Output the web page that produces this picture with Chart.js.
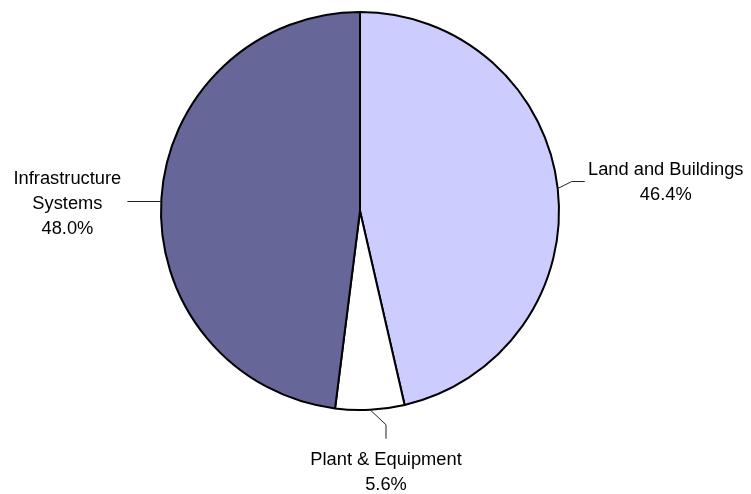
<!DOCTYPE html>
<html>
<head>
<meta charset="utf-8">
<script src="https://cdn.jsdelivr.net/npm/chart.js@4"></script>
<style>
  body { margin: 0; background: #fff; }
</style>
</head>
<body>
<canvas id="assetPie" width="751" height="494"></canvas>
<script>
// Asset mix pie
const categories = ['Land and Buildings', 'Plant & Equipment', 'Infrastructure Systems'];
const shares = [46.4, 5.6, 48.0];
const sliceColors = ['#CCCCFF', '#FFFFFF', '#666699'];
const labelLines = [['Land and Buildings'], ['Plant & Equipment'], ['Infrastructure', 'Systems']];

// leader points (offsets from slice edge midpoint) and text offsets
const leaders = [
  [[0, 0], [14, -7], [27, -7]],
  [[0, 0], [16, 15], [16, 29]],
  [[0, 3], [-34, 3]]
];
const textOffsets = [[108, -19], [16, 50], [-94, -20]];

const calloutPlugin = {
  id: 'callouts',
  afterDatasetsDraw(chart) {
    const ctx = chart.ctx;
    const meta = chart.getDatasetMeta(0);
    ctx.save();
    ctx.font = '18.3px "Liberation Sans", Arial, sans-serif';
    ctx.fillStyle = '#000';
    ctx.strokeStyle = '#222';
    ctx.lineWidth = 1;
    ctx.textAlign = 'center';
    ctx.textBaseline = 'middle';
    meta.data.forEach((arc, i) => {
      const p = arc.getProps(['x', 'y', 'startAngle', 'endAngle', 'outerRadius'], true);
      const mid = (p.startAngle + p.endAngle) / 2;
      const ex = p.x + Math.cos(mid) * p.outerRadius;
      const ey = p.y + Math.sin(mid) * p.outerRadius;
      ctx.beginPath();
      leaders[i].forEach((o, j) => {
        if (j === 0) ctx.moveTo(ex + o[0], ey + o[1]);
        else ctx.lineTo(ex + o[0], ey + o[1]);
      });
      ctx.stroke();
      const lines = labelLines[i].concat([shares[i].toFixed(1) + '%']);
      const tx = ex + textOffsets[i][0];
      const ty = ey + textOffsets[i][1];
      lines.forEach((t, k) => ctx.fillText(t, tx, ty + k * 25));
    });
    ctx.restore();
  }
};

const assetConfig = {
  type: 'pie',
  data: {
    labels: categories,
    datasets: [{
      data: shares,
      backgroundColor: sliceColors,
      borderColor: '#000000',
      borderWidth: 2,
      hoverOffset: 0
    }]
  },
  options: {
    responsive: false,
    animation: false,
    events: [],
    layout: {
      padding: { top: 11, bottom: 83, left: 160, right: 191 }
    },
    plugins: {
      legend: { display: false },
      tooltip: { enabled: false }
    }
  },
  plugins: [calloutPlugin]
};

const assetChart = new Chart(
  document.getElementById('assetPie'),
  assetConfig
);
</script>
</body>
</html>
